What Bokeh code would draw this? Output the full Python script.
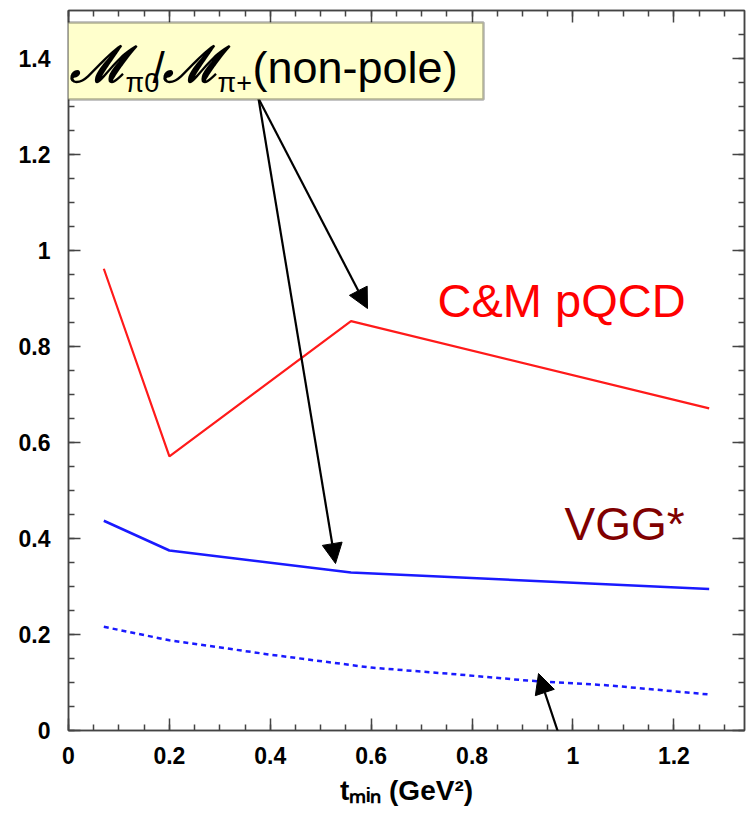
from bokeh.plotting import figure
from bokeh.models import (LinearAxis, Range1d, Label, Arrow, NormalHead,
                          BoxAnnotation, SingleIntervalTicker, CustomLabelingPolicy)
from bokeh.embed import file_html
from bokeh.resources import INLINE

# ---- data ----
cm_t = [0.07, 0.2, 0.56, 1.27]
cm_ratio = [0.962, 0.571, 0.853, 0.671]

vgg_t = [0.07, 0.2, 0.56, 1.27]
vgg_ratio = [0.437, 0.375, 0.329, 0.295]

vgg2_t = [0.07, 0.2, 0.4, 0.6, 0.77, 0.91, 1.07, 1.27]
vgg2_ratio = [0.216, 0.188, 0.158, 0.131, 0.117, 0.104, 0.094, 0.075]

x_title = "tₘᵢₙ (GeV²)"

p = figure(width=748, height=814, output_backend="svg", toolbar_location=None,
           x_range=Range1d(0, 1.34), y_range=Range1d(0, 1.5),
           min_border_left=68, min_border_right=3, min_border_top=10,
           min_border_bottom=84, x_axis_location=None, y_axis_location=None)
p.grid.visible = False
p.outline_line_color = "#444444"
p.outline_line_width = 1.5

AX = "#444444"
FONT = "Liberation Sans"

hide_all = CustomLabelingPolicy(code="""
const ks = [...indices];
for (const k of ks) indices.unset(k);
return indices;
""")


def style_axis(ax, labels=True):
    ax.axis_line_color = AX
    ax.axis_line_width = 1.5
    ax.major_tick_line_color = AX
    ax.minor_tick_line_color = AX
    ax.major_tick_line_width = 1.5
    ax.minor_tick_line_width = 1.5
    ax.major_tick_in = 12
    ax.major_tick_out = 0
    ax.minor_tick_in = 6
    ax.minor_tick_out = 0
    if labels:
        ax.major_label_text_font = FONT
        ax.major_label_text_font_style = "bold"
        ax.major_label_text_font_size = "23px"
        ax.major_label_text_color = "black"
    else:
        ax.major_label_policy = hide_all
        ax.major_label_text_font_size = "1px"
        ax.major_label_standoff = 0


bottom = LinearAxis(ticker=SingleIntervalTicker(interval=0.2, num_minor_ticks=4))
style_axis(bottom)
bottom.major_label_standoff = 16
bottom.major_label_overrides = {0: "0", 1: "1"}
bottom.axis_label = x_title
bottom.axis_label_text_font = FONT
bottom.axis_label_text_font_style = "bold"
bottom.axis_label_text_font_size = "28px"
bottom.axis_label_text_color = "black"
bottom.axis_label_standoff = 8

left = LinearAxis(ticker=SingleIntervalTicker(interval=0.2, num_minor_ticks=4))
style_axis(left)
left.major_label_standoff = 18
left.major_label_overrides = {0: "0", 1: "1"}
top = LinearAxis(ticker=SingleIntervalTicker(interval=0.2, num_minor_ticks=4))
style_axis(top, labels=False)
right = LinearAxis(ticker=SingleIntervalTicker(interval=0.2, num_minor_ticks=4))
style_axis(right, labels=False)
p.add_layout(bottom, "below")
p.add_layout(left, "left")
p.add_layout(top, "above")
p.add_layout(right, "right")

# ---- curves ----
p.line(cm_t, cm_ratio, line_color="#ff1a1a", line_width=2.2)
p.line(vgg_t, vgg_ratio, line_color="#1a1aff", line_width=2.5)
p.line(vgg2_t, vgg2_ratio, line_color="#1a1aff", line_width=2.5, line_dash="5 4")


def clabel(x, y, text, size, color="black", font=FONT, style="normal"):
    # y is the wanted baseline (canvas px); correct for Label's box offset
    px = float(size.replace("px", ""))
    return Label(x=x, y=y - 0.36 * px, x_units="canvas", y_units="canvas",
                 text=text, text_font=font, text_font_style=style,
                 text_font_size=size, text_color=color,
                 text_baseline="alphabetic")


# ---- curve labels ----
p.add_layout(clabel(437, 317, "C&M pQCD", "47px", "#ff0000"))
p.add_layout(clabel(564, 540, "VGG*", "46px", "#800000"))

# ---- arrows ----
for (x0, y0, x1, y1) in [(258, 98, 367, 308),
                         (258, 98, 335, 563),
                         (585, 814, 538, 673)]:
    p.add_layout(Arrow(x_start=x0, y_start=y0, x_end=x1, y_end=y1,
                       start_units="canvas", end_units="canvas",
                       line_color="black", line_width=2.2,
                       end=NormalHead(size=20, fill_color="black",
                                      line_color="black")))

# ---- annotation box ----
p.add_layout(BoxAnnotation(left=48, right=483, top=22, bottom=99,
                           left_units="canvas", right_units="canvas",
                           top_units="canvas", bottom_units="canvas",
                           fill_color="#ffffcc", fill_alpha=1.0,
                           line_color="black", line_width=2.5))

p.add_layout(clabel(69, 82, "ℳ", "50px", font="DejaVu Serif", style="bold italic"))
p.add_layout(clabel(125, 92, "π0", "27px"))
p.add_layout(clabel(152, 83, "/", "44px"))
p.add_layout(clabel(162, 82, "ℳ", "50px", font="DejaVu Serif", style="bold italic"))
p.add_layout(clabel(217, 92, "π+", "27px"))
p.add_layout(clabel(252, 83, "(non-pole)", "45px"))

open("out.html", "w").write(file_html(p, INLINE))
